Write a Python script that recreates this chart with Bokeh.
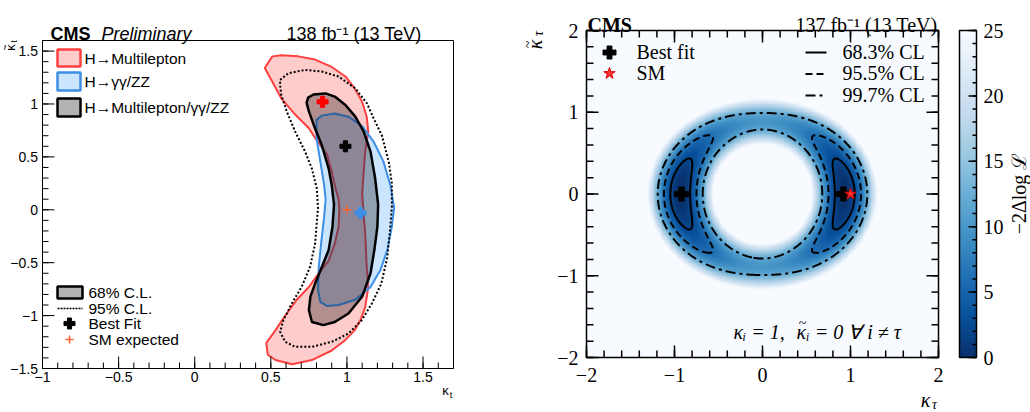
import numpy as np
import contourpy
from bokeh.plotting import figure
from bokeh.layouts import row
from bokeh.models import Label, LinearColorMapper
from bokeh.core.properties import value
from bokeh.palettes import Blues256
from bokeh.embed import file_html
from bokeh.resources import INLINE

# ---------------- Left panel data (kappa_t, kappa~_t) ----------------
ml_kt = [0.46, 0.51, 0.57, 0.68, 0.79, 0.90, 0.99, 1.05, 1.10, 1.13, 1.14, 1.12, 1.11, 1.10, 1.11, 1.12,
         1.13, 1.14, 1.12, 1.09, 1.05, 0.99, 0.90, 0.77, 0.64, 0.53, 0.48, 0.47, 0.53, 0.59, 0.67, 0.75,
         0.79, 0.82, 0.88, 0.92, 0.945, 0.95, 0.945, 0.925, 0.90, 0.87, 0.80, 0.75, 0.66, 0.57, 0.51]
ml_ktt = [1.34, 1.45, 1.46, 1.45, 1.42, 1.35, 1.26, 1.15, 1.02, 0.88, 0.74, 0.55, 0.36, 0.15, -0.05, -0.22,
          -0.54, -0.73, -0.92, -1.04, -1.14, -1.23, -1.33, -1.42, -1.46, -1.42, -1.37, -1.26, -1.14, -1.01, -0.85, -0.73,
          -0.65, -0.59, -0.48, -0.32, -0.16, 0.0, 0.10, 0.20, 0.36, 0.52, 0.66, 0.77, 0.90, 1.05, 1.21]

ggzz_kt = [0.80, 0.835, 0.92, 1.01, 1.10, 1.175, 1.24, 1.285, 1.31, 1.295, 1.265, 1.22, 1.155, 1.055,
           0.945, 0.87, 0.825, 0.81, 0.815, 0.83, 0.85, 0.86, 0.85, 0.825, 0.80]
ggzz_ktt = [0.85, 0.89, 0.91, 0.88, 0.79, 0.645, 0.455, 0.235, 0.02, -0.16, -0.38, -0.57, -0.73, -0.85,
            -0.90, -0.91, -0.87, -0.76, -0.54, -0.32, -0.07, 0.10, 0.235, 0.455, 0.675]

comb68_kt = [0.78, 0.86, 0.92, 0.99, 1.055, 1.11, 1.155, 1.185, 1.205, 1.20, 1.18, 1.155, 1.10, 1.01, 0.92,
             0.845, 0.77, 0.75, 0.76, 0.79, 0.835, 0.88, 0.905, 0.915, 0.90, 0.88, 0.835, 0.79, 0.75, 0.735, 0.745]
comb68_ktt = [1.09, 1.10, 1.07, 0.99, 0.88, 0.74, 0.55, 0.30, 0.05, -0.16, -0.38, -0.60, -0.82, -0.98, -1.06,
              -1.09, -1.06, -0.95, -0.82, -0.70, -0.54, -0.38, -0.16, 0.05, 0.235, 0.39, 0.61, 0.77, 0.93, 1.01, 1.06]

comb95_kt = [0.561, 0.616, 0.725, 0.835, 0.945, 1.054, 1.131, 1.175, 1.23, 1.275, 1.295, 1.295, 1.285, 1.265,
             1.225, 1.164, 1.098, 1.011, 0.901, 0.769, 0.659, 0.594, 0.561, 0.583, 0.638, 0.703, 0.758, 0.791,
             0.805, 0.81, 0.802, 0.769, 0.725, 0.66, 0.605, 0.568, 0.561, 0.561]
comb95_ktt = [1.228, 1.291, 1.322, 1.307, 1.259, 1.149, 1.007, 0.865, 0.70, 0.45, 0.25, 0.03, -0.16, -0.45,
              -0.70, -0.885, -1.042, -1.169, -1.247, -1.295, -1.295, -1.247, -1.153, -1.042, -0.885, -0.727, -0.538, -0.317,
              -0.065, 0.014, 0.203, 0.392, 0.55, 0.739, 0.928, 1.086, 1.181, 1.228]

bf_ml_kt, bf_ml_ktt = [0.84], [1.02]
bf_comb_kt, bf_comb_ktt = [0.99], [0.60]
bf_ggzz_kt, bf_ggzz_ktt = [1.09], [-0.03]
sm_kt, sm_ktt = [1.0], [0.0]

left_xlim = (-1.0, 1.7)
left_ylim = (-1.5, 1.6)
left_xticks = [-1, -0.5, 0, 0.5, 1, 1.5]
left_xtick_labels = ["\u22121", "\u22120.5", "0", "0.5", "1", "1.5"]
left_yticks = [-1.5, -1, -0.5, 0, 0.5, 1, 1.5]
left_ytick_labels = ["\u22121.5", "\u22121", "\u22120.5", "0", "0.5", "1", "1.5"]
left_minor_step = 0.1
left_legend_labels = ["H\u2192Multilepton", "H\u2192\u03b3\u03b3/ZZ", "H\u2192Multilepton/\u03b3\u03b3/ZZ"]
left_legend2_labels = ["68% C.L.", "95% C.L.", "Best Fit", "SM expected"]

# ---------------- Right panel data (kappa_tau, kappa~_tau) ----------------
ring_radius = 0.935        # radius of the likelihood valley
ring_y_scale = 1.05        # vertical squeeze of the valley
ring_radial_curv = 181.0   # -2dlogL curvature across the valley
ring_angular_term = 9.8    # -2dlogL at the CP-odd points of the valley
cl_levels = [2.30, 6.18, 11.83]
cl_labels = ["68.3% CL", "95.5% CL", "99.7% CL"]
cl_dashes = ["solid", "7 4", "10 4 3 4"]
bf_tau_k, bf_tau_kt = [-0.92, 0.92], [0.0, 0.0]
sm_tau_k, sm_tau_kt = [1.0], [0.0]
right_lim = (-2.0, 2.0)
right_ticks = [-2, -1, 0, 1, 2]
right_tick_labels = ["\u22122", "\u22121", "0", "1", "2"]
right_minor_step = 0.2
cbar_ticks = [0, 5, 10, 15, 20, 25]
cbar_tick_labels = ["0", "5", "10", "15", "20", "25"]
z_low, z_high = 0, 25

SANS = "Liberation Sans"
SERIF = "Liberation Serif"


def make_fig(width, xr, yr):
    p = figure(width=width, height=412, x_range=xr, y_range=yr, output_backend="svg",
               toolbar_location=None, x_axis_location=None, y_axis_location=None,
               min_border_left=0, min_border_right=0, min_border_top=0, min_border_bottom=0)
    p.grid.visible = False
    p.outline_line_color = None
    return p


def label(p, x, y, text, font, size, align="left", baseline="middle", style="normal", angle=0.0, color="black"):
    p.add_layout(Label(x=x, y=y, text=text, text_font=font, text_font_size=size, text_align=align,
                       text_baseline=baseline, text_font_style=style, angle=angle, text_color=color))


def vticks(p, xs, y0, length, width):
    n = len(xs)
    p.segment(x0=list(xs), y0=[y0] * n, x1=list(xs), y1=[y0 + length] * n, line_color="black", line_width=width)


def hticks(p, ys, x0, length, width):
    n = len(ys)
    p.segment(x0=[x0] * n, y0=list(ys), x1=[x0 + length] * n, y1=list(ys), line_color="black", line_width=width)


# ===================== LEFT PANEL =====================
LX0, LX1, LY0, LY1 = 42, 453, 40, 368          # frame in page pixels
LSX = (left_xlim[1] - left_xlim[0]) / (LX1 - LX0)
LSY = (left_ylim[1] - left_ylim[0]) / (LY1 - LY0)
def lx(px): return left_xlim[0] + (px - LX0) * LSX
def ly(py): return left_ylim[1] - (py - LY0) * LSY

pL = make_fig(520, (lx(0), lx(520)), (ly(412), ly(0)))

RED_LINE, RED_FILL = "#ff4040", "#ff0000"
BLUE_LINE, BLUE_FILL = "#3d8fe6", "#3399ff"

pL.patch(ml_kt, ml_ktt, fill_color=RED_FILL, fill_alpha=0.2, line_color=RED_LINE, line_width=2)
pL.patch(ggzz_kt, ggzz_ktt, fill_color=BLUE_FILL, fill_alpha=0.25, line_color=BLUE_LINE, line_width=2)
pL.patch(comb68_kt, comb68_ktt, fill_color="black", fill_alpha=0.3, line_color="black", line_width=2.5)
pL.line(comb95_kt, comb95_ktt, line_color="black", line_width=2, line_dash="2 2")

pL.scatter(bf_ml_kt, bf_ml_ktt, marker="plus", size=11, color="red")
pL.scatter(bf_comb_kt, bf_comb_ktt, marker="plus", size=11, color="black")
pL.scatter(bf_ggzz_kt, bf_ggzz_ktt, marker="plus", size=11, color=BLUE_LINE)
pL.scatter(sm_kt, sm_ktt, marker="cross", size=9, line_width=1.5, color="#ff6633")

# frame, ticks, tick labels
lminor_x = np.round(np.arange(left_xlim[0], left_xlim[1] + 1e-9, left_minor_step), 3)
lminor_y = np.round(np.arange(left_ylim[0], left_ylim[1] + 1e-9, left_minor_step), 3)
vticks(pL, lminor_x, left_ylim[0], 6 * LSY, 1)
vticks(pL, left_xticks, left_ylim[0], 12 * LSY, 1)
hticks(pL, lminor_y, left_xlim[0], 6 * LSX, 1)
hticks(pL, left_yticks, left_xlim[0], 12 * LSX, 1)
pL.quad(left=[left_xlim[0]], right=[left_xlim[1]], bottom=[left_ylim[0]], top=[left_ylim[1]],
        fill_color=None, line_color="black", line_width=1)
pL.text(x=left_xticks, y=[ly(376.5)] * len(left_xticks), text=left_xtick_labels, text_font=value(SANS),
        text_font_size=value("14px"), text_align="center", text_baseline="middle", text_color="black")
pL.text(x=[lx(37.5)] * len(left_yticks), y=left_yticks, text=left_ytick_labels, text_font=value(SANS),
        text_font_size=value("14px"), text_align="right", text_baseline="middle", text_color="black")

# legend (top)
leg_rows = [(49, 66, RED_FILL, 0.2, RED_LINE), (72, 90, BLUE_FILL, 0.25, BLUE_LINE), (98, 116, "black", 0.3, "black")]
for (t, b, fc, fa, lc), lab in zip(leg_rows, left_legend_labels):
    pL.quad(left=[lx(57)], right=[lx(80)], top=[ly(t)], bottom=[ly(b)], fill_color=fc, fill_alpha=fa,
            line_color=lc, line_width=2.5)
    label(pL, lx(84), ly((t + b) / 2), lab, SANS, "15.5px")
# legend (bottom)
pL.quad(left=[lx(57)], right=[lx(82)], top=[ly(286)], bottom=[ly(298)], fill_color="black", fill_alpha=0.3,
        line_color="black", line_width=2.5)
pL.line([lx(57), lx(82)], [ly(308), ly(308)], line_color="black", line_width=1.5, line_dash="2 1")
pL.scatter([lx(69)], [ly(323)], marker="plus", size=11, color="black")
pL.scatter([lx(69)], [ly(339)], marker="cross", size=8, line_width=1.5, color="#ff6633")
for yy, lab in zip([292, 308, 323, 339], left_legend2_labels):
    label(pL, lx(88), ly(yy), lab, SANS, "15.5px")

# titles and axis titles
label(pL, lx(50), ly(33), "CMS", SANS, "18px", baseline="alphabetic", style="bold")
label(pL, lx(101), ly(33), "Preliminary", SANS, "18px", baseline="alphabetic", style="italic")
label(pL, lx(421), ly(33), "138 fb\u207b\u00b9 (13 TeV)", SANS, "18px", align="right", baseline="alphabetic")
label(pL, lx(445), ly(390), "\u03ba", SANS, "13px", align="center")
label(pL, lx(450.5), ly(394), "t", SANS, "9px", align="center")
label(pL, lx(10), ly(47), "\u03ba", SANS, "13px", align="center", angle=np.pi / 2)
label(pL, lx(5), ly(47), "~", SANS, "10px", align="center", angle=np.pi / 2)
label(pL, lx(13), ly(41), "t", SANS, "9px", align="center", angle=np.pi / 2)

# ===================== RIGHT PANEL =====================
RX0, RX1, RY0, RY1 = 586, 938, 30, 357
RSX = (right_lim[1] - right_lim[0]) / (RX1 - RX0)
RSY = (right_lim[1] - right_lim[0]) / (RY1 - RY0)
def rx(px): return right_lim[0] + (px - RX0) * RSX
def ry(py): return right_lim[1] - (py - RY0) * RSY

RW = 430
pR = make_fig(RW, (rx(520), rx(520 + RW)), (ry(412), ry(0)))

pR.quad(left=[right_lim[0]], right=[right_lim[1]], bottom=[right_lim[0]], top=[right_lim[1]],
        fill_color="#f7fbff", line_color=None)

gx = np.linspace(right_lim[0], right_lim[1], 401)
gy = np.linspace(right_lim[0], right_lim[1], 401)
GX, GY = np.meshgrid(gx, gy)
GYs = GY * ring_y_scale
rho = np.hypot(GX, GYs)
sin2 = GYs ** 2 / np.maximum(rho, 1e-9) ** 2
Z = ring_radial_curv * (rho - ring_radius) ** 2 + ring_angular_term * sin2

mapper = LinearColorMapper(palette=Blues256, low=z_low, high=z_high)
pR.image(image=[Z], x=right_lim[0], y=right_lim[0], dw=right_lim[1] - right_lim[0],
         dh=right_lim[1] - right_lim[0], color_mapper=mapper)

gen = contourpy.contour_generator(GX, GY, Z, line_type="Separate")
for lev, dash in zip(cl_levels, cl_dashes):
    lines = gen.lines(lev)
    xs = [list(l[:, 0]) for l in lines]
    ys = [list(l[:, 1]) for l in lines]
    pR.multi_line(xs, ys, line_color="black", line_width=2, line_dash=dash)

pR.scatter(bf_tau_k, bf_tau_kt, marker="plus", size=14, color="black")
pR.scatter(sm_tau_k, sm_tau_kt, marker="star", size=12, fill_color="#ff3030", line_color="#e00000")

rminor = np.round(np.arange(right_lim[0], right_lim[1] + 1e-9, right_minor_step), 3)
for pos, sign in ((right_lim[0], 1), (right_lim[1], -1)):
    vticks(pR, rminor, pos, sign * 7 * RSY, 1.5)
    vticks(pR, right_ticks, pos, sign * 12 * RSY, 1.5)
    hticks(pR, rminor, pos, sign * 7 * RSX, 1.5)
    hticks(pR, right_ticks, pos, sign * 12 * RSX, 1.5)
pR.quad(left=[right_lim[0]], right=[right_lim[1]], bottom=[right_lim[0]], top=[right_lim[1]],
        fill_color=None, line_color="black", line_width=1.5)
pR.text(x=right_ticks, y=[ry(374)] * len(right_ticks), text=right_tick_labels, text_font=value(SERIF),
        text_font_size=value("20px"), text_align="center", text_baseline="middle", text_color="black")
pR.text(x=[rx(578)] * len(right_ticks), y=right_ticks, text=right_tick_labels, text_font=value(SERIF),
        text_font_size=value("20px"), text_align="right", text_baseline="middle", text_color="black")

# right legend
pR.scatter([rx(609)], [ry(52)], marker="plus", size=13, color="black")
pR.scatter([rx(609)], [ry(73)], marker="star", size=12, fill_color="#ff3030", line_color="#e00000")
for yy, lab in zip([51, 72.5], ["Best fit", "SM"]):
    label(pR, rx(636), ry(yy), lab, SERIF, "20px")
for yy, lab, dash in zip([52, 73.5, 95], cl_labels, cl_dashes):
    pR.line([rx(805), rx(826)], [ry(yy), ry(yy)], line_color="black", line_width=2, line_dash=dash)
    label(pR, rx(842), ry(yy - 1), lab, SERIF, "20px")

# annotation  kappa_i = 1, kappa~_i = 0 for all i != tau
label(pR, rx(733), ry(331), "\u03ba\u1d62 = 1,", SERIF, "20px", style="italic")
label(pR, rx(796), ry(331), "\u03ba", SERIF, "20px", style="italic")
label(pR, rx(802), ry(323), "~", SERIF, "14px", align="center")
label(pR, rx(806), ry(331), "\u1d62 = 0 \u2200 i \u2260 \u03c4", SERIF, "20px", style="italic")

# titles and axis titles
label(pR, rx(587), ry(24), "CMS", SERIF, "20px", baseline="alphabetic", style="bold")
label(pR, rx(937), ry(24), "137 fb\u207b\u00b9 (13 TeV)", SERIF, "20px", align="right", baseline="alphabetic")
label(pR, rx(925), ry(399), "\u03ba", SERIF, "20px", align="center", style="italic")
label(pR, rx(934), ry(404), "\u03c4", SERIF, "14px", align="center", style="italic")
label(pR, rx(534), ry(44), "\u03ba", SERIF, "20px", align="center", style="italic", angle=np.pi / 2)
label(pR, rx(527.5), ry(44), "~", SERIF, "14px", align="center", angle=np.pi / 2)
label(pR, rx(538), ry(33), "\u03c4", SERIF, "14px", align="center", style="italic", angle=np.pi / 2)

# ===================== COLOR BAR =====================
CX0, CX1 = 959, 976
CSTART = 520 + RW
CW = 1030 - CSTART
CSY = (z_high - z_low) / (RY1 - RY0)
def cx(px): return (px - CX0) / (CX1 - CX0)
def cy(py): return z_high - (py - RY0) * CSY

pC = make_fig(CW, (cx(CSTART), cx(CSTART + CW)), (cy(412), cy(0)))
cgrad = np.linspace(z_low, z_high, 256).reshape(256, 1)
pC.image(image=[cgrad], x=0, y=z_low, dw=1, dh=z_high - z_low, color_mapper=mapper)
cminor = list(range(z_low, z_high + 1))
hticks(pC, cminor, 1.0, -4 / (CX1 - CX0), 1.5)
hticks(pC, cbar_ticks, 1.0, -8 / (CX1 - CX0), 1.5)
pC.quad(left=[0], right=[1], bottom=[z_low], top=[z_high], fill_color=None, line_color="black", line_width=1.5)
pC.text(x=[cx(983)] * len(cbar_ticks), y=cbar_ticks, text=cbar_tick_labels, text_font=value(SERIF),
        text_font_size=value("20px"), text_align="left", text_baseline="middle", text_color="black")
label(pC, cx(1018), cy(193), "\u22122\u0394log \u2112", SERIF, "20px", align="center", angle=np.pi / 2)

layout = row(pL, pR, pC)
open("out.html", "w").write(file_html(layout, INLINE))
